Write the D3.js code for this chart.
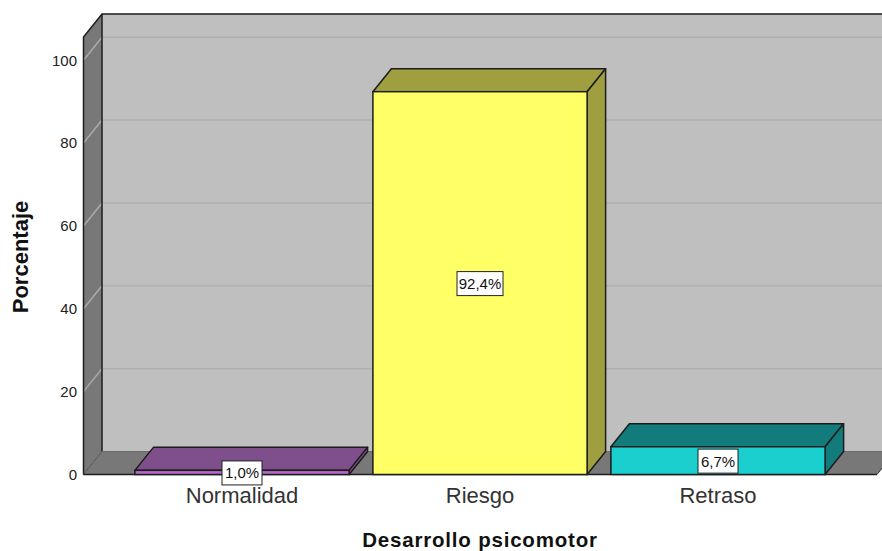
<!DOCTYPE html>
<html>
<head>
<meta charset="utf-8">
<script src="https://cdn.jsdelivr.net/npm/d3@7"></script>
<style>
  html, body { margin: 0; padding: 0; background: #fff; }
  svg { display: block; }
  text { font-family: "Liberation Sans", Arial, sans-serif; }
</style>
</head>
<body>
<div id="chart"></div>
<script>
// Chart data
var categories = ["Normalidad", "Riesgo", "Retraso"];
var values = [1.0, 92.4, 6.7];
var labels = ["1,0%", "92,4%", "6,7%"];
var frontColors = ["#b868cc", "#ffff66", "#1ccfcf"];
var darkColors = ["#7e4f8b", "#a09f40", "#127c7c"];
var yTicks = [0, 20, 40, 60, 80, 100];
var yMax = 105.6;

var width = 882, height = 551;
var depthX = 18.5, depthY = 23; // 3D offset of the back wall

var svg = d3.select("#chart").append("svg")
    .attr("width", width)
    .attr("height", height);

var y = d3.scaleLinear().domain([0, yMax]).range([474.5, 37]);
var x = d3.scaleBand().domain(categories).range([123, 837]).paddingInner(0.1).paddingOuter(0.05);

var left = 83.5, right = 877;
var lineColor = "#1c1c1c";

function poly(points) {
    return points.map(function(p) { return p.join(","); }).join(" ");
}

// Back wall
svg.append("polygon")
    .attr("points", poly([[left + depthX, y(yMax) - depthY], [width, y(yMax) - depthY], [width, y(0) - depthY], [left + depthX, y(0) - depthY]]))
    .attr("fill", "#bfbfbf");

// Left wall and floor
svg.append("polygon")
    .attr("points", poly([[left, y(yMax)], [left + depthX, y(yMax) - depthY], [left + depthX, y(0) - depthY], [left, y(0)]]))
    .attr("fill", "#787878");
svg.append("polygon")
    .attr("points", poly([[left, y(0)], [left + depthX, y(0) - depthY], [right + depthX, y(0) - depthY], [right, y(0)]]))
    .attr("fill", "#787878");

// Gridlines, on the back wall and running down the left wall
var gridTicks = yTicks.filter(function(d) { return d > 0; });
svg.selectAll(".grid-back")
    .data(gridTicks)
    .enter().append("line")
    .attr("class", "grid-back")
    .attr("x1", left + depthX)
    .attr("x2", width)
    .attr("y1", function(d) { return y(d) - depthY; })
    .attr("y2", function(d) { return y(d) - depthY; })
    .attr("stroke", "#b0b0b0")
    .attr("stroke-width", 1.5);
svg.selectAll(".grid-side")
    .data(gridTicks)
    .enter().append("line")
    .attr("class", "grid-side")
    .attr("x1", left)
    .attr("x2", left + depthX)
    .attr("y1", function(d) { return y(d); })
    .attr("y2", function(d) { return y(d) - depthY; })
    .attr("stroke", "#ababab")
    .attr("stroke-width", 1.5);

// Wall outlines
svg.append("path")
    .attr("d", "M" + left + "," + y(0) + "V" + y(yMax) + "L" + (left + depthX) + "," + (y(yMax) - depthY) + "H" + width)
    .attr("fill", "none")
    .attr("stroke", lineColor)
    .attr("stroke-width", 1.5);
svg.append("line")
    .attr("x1", left + depthX).attr("x2", left + depthX)
    .attr("y1", y(yMax) - depthY).attr("y2", y(0) - depthY)
    .attr("stroke", lineColor).attr("stroke-width", 1.5);
svg.append("line")
    .attr("x1", left).attr("x2", left + depthX)
    .attr("y1", y(0)).attr("y2", y(0) - depthY)
    .attr("stroke", "#555").attr("stroke-width", 1);
svg.append("line")
    .attr("x1", left + depthX).attr("x2", width)
    .attr("y1", y(0) - depthY).attr("y2", y(0) - depthY)
    .attr("stroke", "#6a6a6a").attr("stroke-width", 1);
svg.append("line")
    .attr("x1", left).attr("x2", right)
    .attr("y1", y(0)).attr("y2", y(0))
    .attr("stroke", lineColor).attr("stroke-width", 1.5);
svg.append("line")
    .attr("x1", right).attr("x2", right + depthX)
    .attr("y1", y(0)).attr("y2", y(0) - depthY)
    .attr("stroke", "#333").attr("stroke-width", 1);

// Bars: top, side and front faces
var bars = svg.selectAll(".bar")
    .data(categories)
    .enter().append("g")
    .attr("class", "bar");

bars.append("polygon")
    .attr("points", function(d, i) {
        var x0 = x(d), x1 = x0 + x.bandwidth(), t = y(values[i]);
        return poly([[x0, t], [x0 + depthX, t - depthY], [x1 + depthX, t - depthY], [x1, t]]);
    })
    .attr("fill", function(d, i) { return darkColors[i]; })
    .attr("stroke", lineColor)
    .attr("stroke-width", 1.5)
    .attr("stroke-linejoin", "round");

bars.append("polygon")
    .attr("points", function(d, i) {
        var x1 = x(d) + x.bandwidth(), t = y(values[i]);
        return poly([[x1, t], [x1 + depthX, t - depthY], [x1 + depthX, y(0) - depthY], [x1, y(0)]]);
    })
    .attr("fill", function(d, i) { return darkColors[i]; })
    .attr("stroke", lineColor)
    .attr("stroke-width", 1.5)
    .attr("stroke-linejoin", "round");

bars.append("rect")
    .attr("x", function(d) { return x(d); })
    .attr("y", function(d, i) { return y(values[i]); })
    .attr("width", x.bandwidth())
    .attr("height", function(d, i) { return y(0) - y(values[i]); })
    .attr("fill", function(d, i) { return frontColors[i]; })
    .attr("stroke", lineColor)
    .attr("stroke-width", 1.5);

// Value labels in white boxes
var labelBoxes = svg.selectAll(".value-label")
    .data(categories)
    .enter().append("g")
    .attr("class", "value-label")
    .attr("transform", function(d, i) {
        return "translate(" + (x(d) + x.bandwidth() / 2) + "," + (y(values[i] / 2) + 0.5) + ")";
    });

labelBoxes.append("rect")
    .attr("x", function(d, i) { return i == 1 ? -23 : -20; })
    .attr("y", -12)
    .attr("width", function(d, i) { return i == 1 ? 46 : 40; })
    .attr("height", 24)
    .attr("fill", "#fff")
    .attr("stroke", "#222")
    .attr("stroke-width", 1);

labelBoxes.append("text")
    .attr("text-anchor", "middle")
    .attr("dy", "0.36em")
    .attr("font-size", "15px")
    .attr("fill", "#111")
    .text(function(d, i) { return labels[i]; });

// Axes, only the text is kept
var yAxis = svg.append("g")
    .attr("transform", "translate(" + (left - 6.5) + ",0)")
    .call(d3.axisLeft(y).tickValues(yTicks).tickSize(0).tickPadding(0));
yAxis.select(".domain").remove();
yAxis.selectAll("text")
    .attr("font-size", "15px")
    .attr("font-family", "'Liberation Sans', Arial, sans-serif")
    .attr("fill", "#222");

var xAxis = svg.append("g")
    .attr("transform", "translate(0," + y(0) + ")")
    .call(d3.axisBottom(x).tickSize(0).tickPadding(13));
xAxis.select(".domain").remove();
xAxis.selectAll("text")
    .attr("font-size", "22px")
    .attr("font-family", "'Liberation Sans', Arial, sans-serif")
    .attr("fill", "#333");

// Axis titles
svg.append("text")
    .attr("x", 480)
    .attr("y", 546.5)
    .attr("text-anchor", "middle")
    .attr("font-size", "20.5px")
    .attr("letter-spacing", "0.8px")
    .attr("font-weight", "bold")
    .attr("fill", "#111")
    .text("Desarrollo psicomotor");

svg.append("text")
    .attr("transform", "translate(28,257) rotate(-90)")
    .attr("text-anchor", "middle")
    .attr("font-size", "22px")
    .attr("font-weight", "bold")
    .attr("fill", "#111")
    .text("Porcentaje");
</script>
</body>
</html>
